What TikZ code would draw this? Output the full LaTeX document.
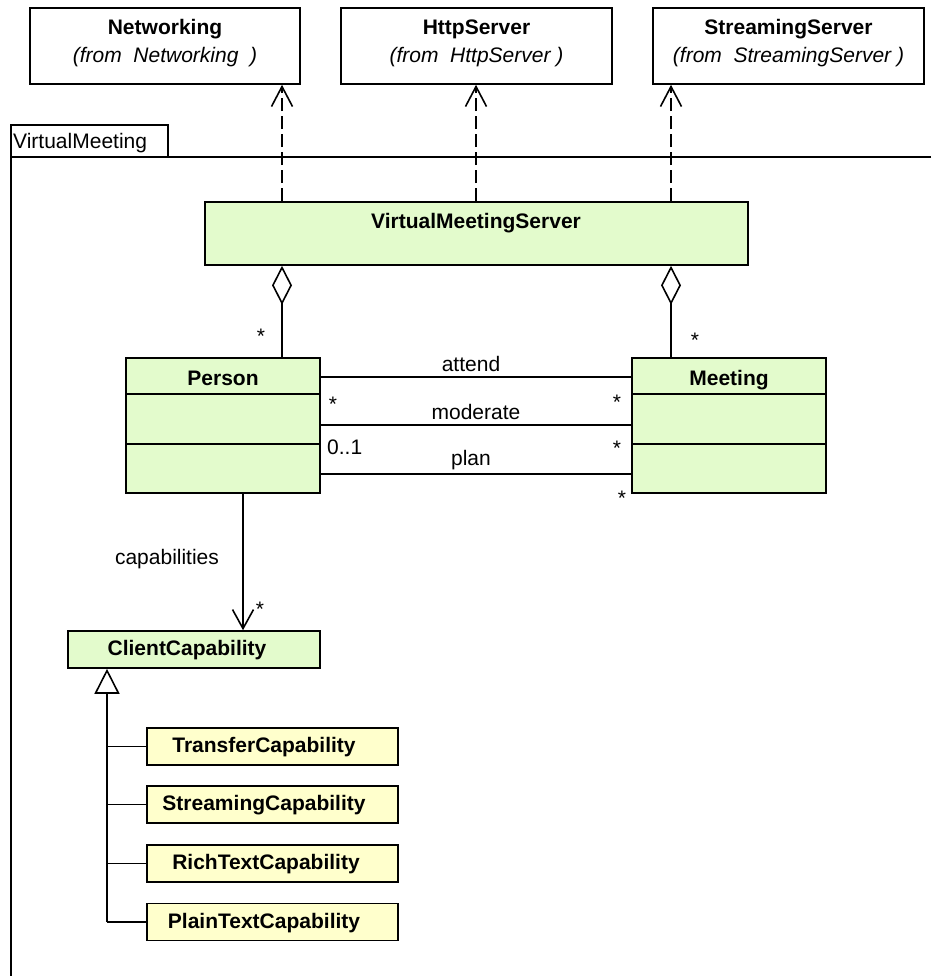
\documentclass[tikz,border=0pt]{standalone}
\usepackage{fontspec}
\setmainfont{Liberation Sans}
\usetikzlibrary{arrows.meta}
\definecolor{classgreen}{HTML}{E3FBCC}
\definecolor{classyellow}{HTML}{FFFFCC}
\begin{document}
\begin{tikzpicture}[x=1pt,y=-1pt,
  every node/.style={font=\fontsize{21}{25}\selectfont, inner sep=0pt},
  pkgbox/.style={draw, line width=1.6pt, fill=white, minimum height=76pt, minimum width=271pt},
  gbox/.style={draw, line width=1.6pt, fill=classgreen},
  ybox/.style={draw, line width=1.6pt, fill=classyellow, minimum width=251pt, minimum height=37pt},
  bname/.style={font=\fontsize{21}{25}\selectfont\bfseries},
  iname/.style={font=\fontsize{21}{25}\selectfont\itshape},
  lbl/.style={font=\fontsize{21}{25}\selectfont},
  mult/.style={font=\fontsize{21}{25}\selectfont},
  line/.style={line width=1.6pt},
  dep/.style={line width=1.4pt, dash pattern=on 13pt off 5pt, -{Straight Barb[length=20pt,width=21pt,line width=1.6pt]}},
  aggr/.style={line width=1.6pt, {Diamond[open,length=39pt,width=20pt,line width=1.6pt]}-},
  navi/.style={line width=1.6pt, -{Straight Barb[length=19pt,width=21pt,line width=1.6pt]}},
  gen/.style={line width=1.6pt, -{Triangle[open,length=25pt,width=25pt,line width=1.6pt]}}
]
\useasboundingbox (0,0) rectangle (931,976);

% package frame
\node[draw, line width=1.6pt, minimum width=157pt, minimum height=32pt] (tab) at (89.5,141) {};
\node[lbl, anchor=west] (pkgname) at (13,143) {VirtualMeeting};
\coordinate (frameleft) at (11,157);
\coordinate (frameright) at (931,157);
\coordinate (framebottom) at (11,976);
\draw[line] (frameright) -- (frameleft) -- (framebottom);

% external packages
\node[pkgbox, minimum width=270pt] (net) at (165,46) {};
\node[bname] (netname) at (165,29) {Networking};
\node[iname] (netfrom) at (165,57) {(from\ \ Networking\ \ )};
\node[pkgbox] (http) at (476.5,46) {};
\node[bname] (httpname) at (476.5,29) {HttpServer};
\node[iname] (httpfrom) at (476.5,57) {(from\ \ HttpServer )};
\node[pkgbox] (stream) at (788.5,46) {};
\node[bname] (streamname) at (788.5,29) {StreamingServer};
\node[iname] (streamfrom) at (788.5,57) {(from\ \ StreamingServer )};

% VirtualMeetingServer
\node[gbox, minimum width=543pt, minimum height=63pt] (vms) at (476.5,233.5) {};
\node[bname] (vmsname) at (476,223) {VirtualMeetingServer};

% dependencies
\draw[dep] (282,0 |- vms.north) -- (282,0 |- net.south);
\draw[dep] (476,0 |- vms.north) -- (476,0 |- http.south);
\draw[dep] (671,0 |- vms.north) -- (671,0 |- stream.south);

% Person and Meeting
\node[gbox, minimum width=194pt, minimum height=135pt] (person) at (223,425.5) {};
\node[bname, anchor=base] (personname) at (223,385) {Person};
\draw[line] (person.west |- 0,394) -- (person.east |- 0,394);
\draw[line] (person.west |- 0,444) -- (person.east |- 0,444);

\node[gbox, minimum width=194pt, minimum height=135pt] (meeting) at (729,425.5) {};
\node[bname, anchor=base] (meetingname) at (729,385) {Meeting};
\draw[line] (meeting.west |- 0,394) -- (meeting.east |- 0,394);
\draw[line] (meeting.west |- 0,444) -- (meeting.east |- 0,444);

% aggregations
\draw[aggr] (282,0 |- vms.south) -- (282,0 |- person.north);
\draw[aggr] (671,0 |- vms.south) -- (671,0 |- meeting.north);
\node[mult] (m1) at (261,336) {*};
\node[mult] (m2) at (695,340) {*};

% associations
\draw[line] (person.east |- 0,377) -- (meeting.west |- 0,377);
\draw[line] (person.east |- 0,425) -- (meeting.west |- 0,425);
\draw[line] (person.east |- 0,474) -- (meeting.west |- 0,474);
\node[lbl] (attend) at (471,364) {attend};
\node[lbl] (moderate) at (476,412) {moderate};
\node[lbl] (plan) at (471,460) {plan};
\node[mult] (m3) at (333,404) {*};
\node[mult] (m4) at (617,402) {*};
\node[mult, anchor=west] (m5) at (327,447) {0..1};
\node[mult] (m6) at (617,448) {*};
\node[mult] (m7) at (622,498) {*};

% ClientCapability
\node[gbox, minimum width=252pt, minimum height=37pt] (client) at (194,649.5) {};
\node[bname] (clientname) at (187,650) {ClientCapability};
\draw[navi] (243,0 |- person.south) -- (243,0 |- client.north);
\node[lbl] (caplbl) at (167,559) {capabilities};
\node[mult] (m8) at (260,609) {*};

% subclasses
\node[ybox] (transfer) at (272.5,746.5) {};
\node[bname] (transfername) at (264,747.5) {TransferCapability};
\node[ybox] (streaming) at (272.5,804.5) {};
\node[bname] (streamingname) at (264,805.5) {StreamingCapability};
\node[ybox] (rich) at (272.5,863.5) {};
\node[bname] (richname) at (266,864.5) {RichTextCapability};
\node[ybox] (plain) at (272.5,922) {};
\node[bname] (plainname) at (264,923) {PlainTextCapability};

\coordinate (trunk) at (107,922);
\draw[gen] (trunk) -- (107,0 |- client.south);
\draw[line] (transfer.west) -- (transfer.west -| trunk);
\draw[line] (streaming.west) -- (streaming.west -| trunk);
\draw[line] (rich.west) -- (rich.west -| trunk);
\draw[line] (plain.west) -- (trunk);
\end{tikzpicture}
\end{document}
